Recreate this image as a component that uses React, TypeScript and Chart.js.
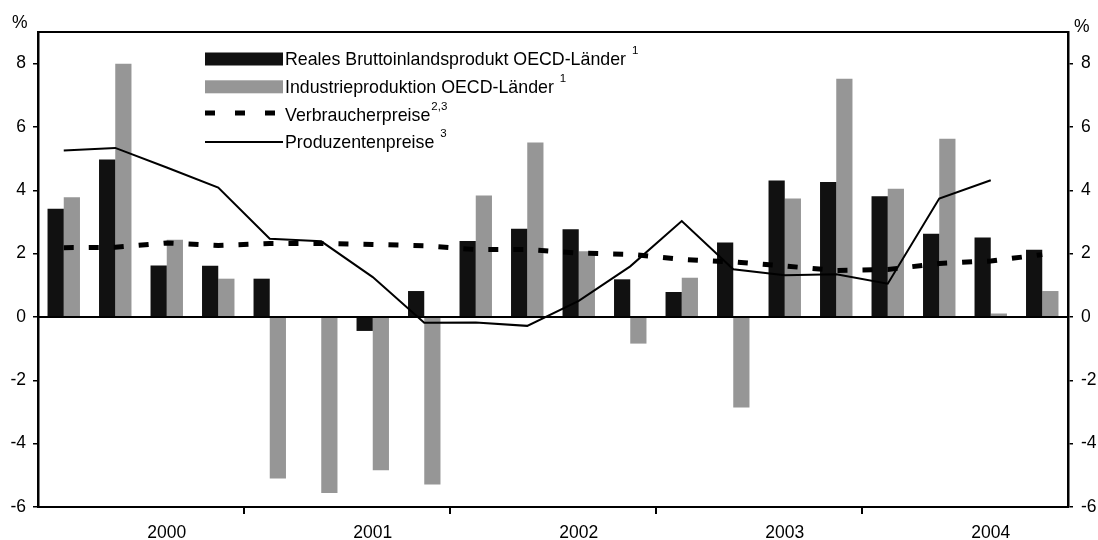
import React, { useEffect, useRef } from 'react';
import { Chart, registerables } from 'chart.js';

Chart.register(...registerables);

// ---- data ----
const quarters = [
  '2000 Q1', '2000 Q2', '2000 Q3', '2000 Q4',
  '2001 Q1', '2001 Q2', '2001 Q3', '2001 Q4',
  '2002 Q1', '2002 Q2', '2002 Q3', '2002 Q4',
  '2003 Q1', '2003 Q2', '2003 Q3', '2003 Q4',
  '2004 Q1', '2004 Q2', '2004 Q3', '2004 Q4',
];
const years = ['2000', '2001', '2002', '2003', '2004'];

const gdpName = 'Reales Bruttoinlandsprodukt OECD-Länder';
const indName = 'Industrieproduktion OECD-Länder';
const cpiName = 'Verbraucherpreise';
const ppiName = 'Produzentenpreise';

const gdp = [3.42, 4.97, 1.63, 1.62, 1.21, 0.0, -0.44, 0.82, 2.4, 2.79, 2.77, 1.19, 0.79, 2.35, 4.31, 4.26, 3.81, 2.63, 2.51, 2.12];
const ind = [3.78, 8.0, 2.44, 1.21, -5.1, -5.56, -4.84, -5.29, 3.84, 5.51, 2.08, -0.84, 1.24, -2.86, 3.74, 7.52, 4.05, 5.63, 0.11, 0.82];
const cpi = [2.19, 2.2, 2.34, 2.26, 2.32, 2.32, 2.29, 2.25, 2.13, 2.13, 2.02, 1.98, 1.82, 1.74, 1.61, 1.47, 1.5, 1.69, 1.77, 1.97];
const ppi = [5.26, 5.34, 4.72, 4.09, 2.47, 2.39, 1.26, -0.18, -0.17, -0.28, 0.51, 1.6, 3.03, 1.51, 1.32, 1.35, 1.05, 3.74, 4.32, null];

const legendNames = [gdpName, indName, cpiName, ppiName];
const legendSup = ['1', '1', '2,3', '3'];
const legendSupGap = [true, true, false, true];

const yTicksMin = -6;
const yTicksMax = 9;
const yStep = 2;

const FONT = "'Liberation Sans', Arial, sans-serif";
const BLACK = '#111111';
const GREY = '#969696';

const overlayPlugin = {
  id: 'overlay',
  afterDatasetsDraw(chart: any) {
    const { ctx, chartArea: a, scales } = chart;
    const y0 = scales.y.getPixelForValue(0);
    ctx.save();
    ctx.strokeStyle = '#000';
    ctx.lineWidth = 2;
    ctx.beginPath();
    ctx.moveTo(a.left, y0);
    ctx.lineTo(a.right, y0);
    ctx.stroke();
    ctx.beginPath();
    ctx.moveTo(a.left - 1, a.top);
    ctx.lineTo(a.right + 1, a.top);
    ctx.stroke();
    ctx.restore();
  },
  afterDraw(chart: any) {
    const { ctx } = chart;
    ctx.save();
    ctx.fillStyle = '#000';
    ctx.textBaseline = 'alphabetic';
    ctx.textAlign = 'left';
    // % units
    ctx.font = `17.5px ${FONT}`;
    ctx.fillText('%', 12, 28);
    ctx.fillText('%', 1074, 32);

    // legend
    const x0 = 205;
    const x1 = 283;
    const tx = 285;
    const rows = [59, 86.8, 114.5, 142];
    for (let i = 0; i < legendNames.length; i++) {
      const cy = rows[i];
      if (i === 0 || i === 1) {
        ctx.fillStyle = i === 0 ? BLACK : GREY;
        ctx.fillRect(x0, cy - 6.5, x1 - x0, 13);
      } else if (i === 2) {
        ctx.strokeStyle = '#000';
        ctx.lineWidth = 5;
        ctx.setLineDash([10, 20]);
        ctx.beginPath();
        ctx.moveTo(x0, cy - 1.5);
        ctx.lineTo(x1, cy - 1.5);
        ctx.stroke();
        ctx.setLineDash([]);
      } else {
        ctx.strokeStyle = '#000';
        ctx.lineWidth = 2;
        ctx.beginPath();
        ctx.moveTo(x0, cy);
        ctx.lineTo(x1, cy);
        ctx.stroke();
      }
      ctx.fillStyle = '#000';
      ctx.font = `17.8px ${FONT}`;
      const base = cy + 6.3;
      const label = legendNames[i] + (legendSupGap[i] ? ' ' : '');
      ctx.fillText(label, tx, base);
      const w = ctx.measureText(label).width;
      ctx.font = `11.5px ${FONT}`;
      ctx.fillText(legendSup[i], tx + w + 1, base - 11);
    }
    ctx.restore();
  },
};

export default function App() {
  const canvasRef = useRef<HTMLCanvasElement | null>(null);

  useEffect(() => {
    const canvas = canvasRef.current;
    if (!canvas) return;
    const chart = new Chart(canvas, {
      type: 'bar',
      data: {
        labels: quarters,
        datasets: [
          {
            type: 'line',
            label: ppiName,
            data: ppi,
            borderColor: '#000',
            borderWidth: 2,
            pointRadius: 0,
            tension: 0,
            fill: false,
            order: 0,
          } as any,
          {
            type: 'line',
            label: cpiName,
            data: cpi,
            borderColor: '#000',
            borderWidth: 5,
            borderDash: [10, 15],
            borderCapStyle: 'butt',
            pointRadius: 0,
            tension: 0,
            fill: false,
            order: 1,
          } as any,
          {
            type: 'bar',
            label: gdpName,
            data: gdp,
            backgroundColor: BLACK,
            borderWidth: 0,
            categoryPercentage: 0.63,
            barPercentage: 1.0,
            order: 2,
          },
          {
            type: 'bar',
            label: indName,
            data: ind,
            backgroundColor: GREY,
            borderWidth: 0,
            categoryPercentage: 0.63,
            barPercentage: 1.0,
            order: 3,
          },
        ],
      },
      options: {
        responsive: false,
        animation: false,
        devicePixelRatio: 1,
        layout: { padding: { top: 32, left: 0, right: 0, bottom: 0 } },
        plugins: {
          legend: { display: false },
          tooltip: { enabled: false },
          title: { display: false },
        },
        scales: {
          x: {
            type: 'category',
            offset: true,
            border: { display: true, color: '#000', width: 2 },
            grid: {
              display: true,
              offset: true,
              drawOnChartArea: false,
              drawTicks: true,
              tickLength: 7,
              lineWidth: 2,
              color: (c: any) =>
                c.index > 0 && c.index < quarters.length && c.index % 4 === 0 ? '#000' : 'rgba(0,0,0,0)',
            },
            ticks: {
              autoSkip: false,
              maxRotation: 0,
              minRotation: 0,
              padding: 9,
              color: '#000',
              font: { family: FONT, size: 17.5 },
              callback: (_v: any, i: number) => (i % 4 === 2 ? years[Math.floor(i / 4)] : ''),
            },
            afterFit: (s: any) => {
              s.height = 33;
            },
          },
          y: {
            type: 'linear',
            position: 'left',
            min: yTicksMin,
            max: yTicksMax,
            border: { display: true, color: '#000', width: 2.5 },
            grid: {
              display: true,
              drawOnChartArea: false,
              drawTicks: true,
              tickLength: 5,
              lineWidth: 1.5,
              color: '#000',
            },
            ticks: {
              stepSize: yStep,
              includeBounds: false,
              padding: 7,
              color: '#000',
              font: { family: FONT, size: 17.5 },
            },
            afterFit: (s: any) => {
              s.width = 38;
            },
          },
          y2: {
            type: 'linear',
            position: 'right',
            min: yTicksMin,
            max: yTicksMax,
            border: { display: true, color: '#000', width: 2.5 },
            grid: {
              display: true,
              drawOnChartArea: false,
              drawTicks: true,
              tickLength: 5,
              lineWidth: 1.5,
              color: '#000',
            },
            ticks: {
              stepSize: yStep,
              includeBounds: false,
              padding: 8,
              color: '#000',
              font: { family: FONT, size: 17.5 },
            },
            afterFit: (s: any) => {
              s.width = 30;
            },
          },
        },
      },
      plugins: [overlayPlugin],
    } as any);
    return () => chart.destroy();
  }, []);

  return (
    <div style={{ position: 'absolute', left: 0, top: 0, width: 1098, height: 540, background: '#fff' }}>
      <canvas ref={canvasRef} width={1098} height={540} style={{ display: 'block' }} />
    </div>
  );
}
